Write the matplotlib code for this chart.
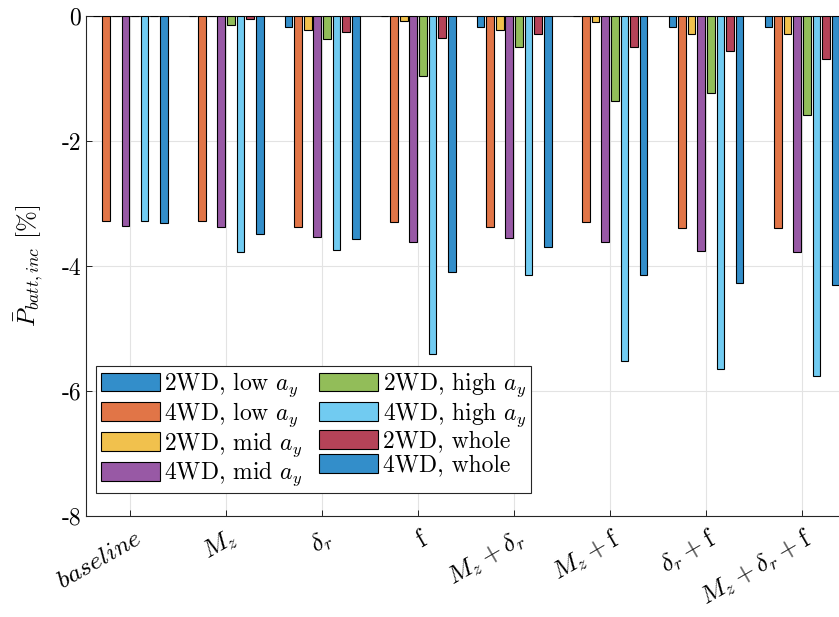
import numpy as np
import matplotlib
matplotlib.use("Agg")
import matplotlib.pyplot as plt
import matplotlib.transforms as mtransforms

plt.rcParams['font.family'] = 'serif'
plt.rcParams['font.serif'] = ['cmr10']
plt.rcParams['mathtext.fontset'] = 'cm'
plt.rcParams['axes.unicode_minus'] = False

# configurations on the x axis
configs = [r'$baseline$', r'$M_z$', r'$\delta_r$', r'$\mathrm{f}$',
           r'$M_z+\delta_r$', r'$M_z+\mathrm{f}$', r'$\delta_r+\mathrm{f}$',
           r'$M_z+\delta_r+\mathrm{f}$']

# battery power increment [%] per configuration
low_2wd = [0.0, 0.0, -0.17, 0.0, -0.17, 0.0, -0.17, -0.17]
low_4wd = [-3.28, -3.28, -3.37, -3.30, -3.37, -3.30, -3.39, -3.39]
mid_2wd = [0.0, 0.0, -0.22, -0.08, -0.22, -0.09, -0.28, -0.29]
mid_4wd = [-3.36, -3.38, -3.53, -3.61, -3.55, -3.62, -3.76, -3.77]
high_2wd = [0.0, -0.15, -0.36, -0.96, -0.50, -1.36, -1.23, -1.58]
high_4wd = [-3.28, -3.77, -3.75, -5.40, -4.14, -5.52, -5.65, -5.76]
whole_2wd = [0.0, -0.05, -0.25, -0.35, -0.29, -0.49, -0.56, -0.69]
whole_4wd = [-3.31, -3.48, -3.56, -4.10, -3.69, -4.15, -4.27, -4.31]

series = [low_2wd, low_4wd, mid_2wd, mid_4wd, high_2wd, high_4wd, whole_2wd, whole_4wd]
labels = [r'2WD, low $a_y$', r'4WD, low $a_y$', r'2WD, mid $a_y$', r'4WD, mid $a_y$',
          r'2WD, high $a_y$', r'4WD, high $a_y$', '2WD, whole', '4WD, whole']
colors = ['#338eca', '#e17547', '#f1c14d', '#9859a5',
          '#92bd59', '#71cbf1', '#b54358', '#338eca']

fig = plt.figure(figsize=(8.39, 6.17), dpi=100)
ax = fig.add_axes([86/839, 101/617, 764/839, 500/617])

x = np.arange(1, len(configs) + 1)
n = len(series)
w = 0.08
for i, (vals, lab, col) in enumerate(zip(series, labels, colors)):
    off = (i - (n - 1) / 2) * 0.1
    ax.bar(x + off, vals, width=w, color=col, edgecolor='black',
           linewidth=0.8, label=lab, zorder=3)

ax.set_xlim(0.54, 8.5)
ax.set_ylim(-8, 0)
ax.set_yticks([0, -2, -4, -6, -8])
ax.set_yticklabels(['0', '-2', '-4', '-6', '-8'])
ax.set_xticks(x)
ax.set_xticklabels(configs, rotation=30, ha='right', va='center',
                   rotation_mode='anchor')
ax.tick_params(axis='both', direction='in', length=4, width=0.6)
ax.tick_params(axis='y', labelsize=17)
ax.tick_params(axis='x', labelsize=18.5, pad=15)
# nudge the slanted labels to the right of their ticks
shift = mtransforms.ScaledTranslation(9/100, 0, fig.dpi_scale_trans)
for t in ax.get_xticklabels():
    t.set_transform(t.get_transform() + shift)
ax.grid(True, color='#e3e3e3', linewidth=0.8, zorder=0)
for s in ax.spines.values():
    s.set_color('#262626')
    s.set_linewidth(0.8)

ax.set_ylabel(r'$\bar{P}_{batt,inc}$ [%]', fontsize=18)
ax.yaxis.set_label_coords(-0.054, 0.5)

leg = ax.legend(ncol=2, loc='lower left', bbox_to_anchor=(0.013, 0.046),
                fontsize=17, fancybox=False, framealpha=1, edgecolor='#262626',
                handlelength=2.5, handleheight=0.85, columnspacing=0.7,
                handletextpad=0.2, labelspacing=0.05, borderpad=0.2,
                borderaxespad=0)
leg.get_frame().set_linewidth(0.8)

fig.savefig('out.png', dpi=100)
